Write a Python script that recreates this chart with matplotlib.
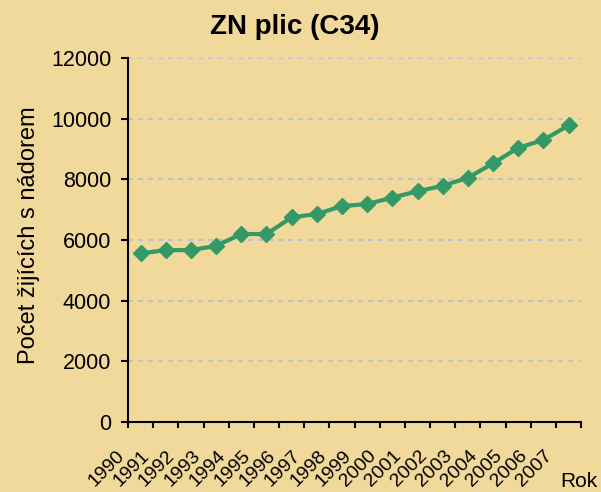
import matplotlib.pyplot as plt

plt.rcParams['font.family'] = ['Liberation Sans', 'DejaVu Sans']

# pocet zijicich s nadorem plic (C34) podle roku
roky = [str(r) for r in range(1990, 2008)]
pocet = [5560, 5670, 5670, 5810, 6200, 6200, 6750, 6860, 7120, 7190,
         7400, 7610, 7790, 8055, 8530, 9040, 9300, 9780]
y_ticks = [0, 2000, 4000, 6000, 8000, 10000, 12000]

bg = '#F0D99A'
zelena = '#339966'

fig = plt.figure(figsize=(6.01, 4.92), dpi=100, facecolor=bg)
ax = fig.add_axes([0.213, 0.142, 0.754, 0.740], facecolor=bg)

# body jsou uprostred kategorii, popisky u hranic
x = [i + 0.5 for i in range(len(roky))]
ax.plot(x, pocet, color=zelena, lw=3, marker='D', ms=8.5, zorder=3)

ax.set_xlim(0, len(roky))
ax.set_ylim(0, 12000)
ax.set_xticks(range(len(roky) + 1))
ax.set_xticklabels(roky + [''], rotation=45, ha='right', va='top')
ax.set_yticks(y_ticks)

for v in y_ticks[1:]:
    ax.axhline(v, color='#C2C2C6', lw=1.5, ls=(0, (2.4, 2.4)), zorder=1)

for s in ['top', 'right']:
    ax.spines[s].set_visible(False)
for s in ['left', 'bottom']:
    ax.spines[s].set_linewidth(1.5)
ax.tick_params(axis='y', direction='out', length=5, width=1.5, labelsize=15.5, pad=7)
ax.tick_params(axis='x', direction='out', length=4, width=1.5, labelsize=14, pad=14)

fig.text(0.49, 0.945, 'ZN plic (C34)', ha='center', va='center',
         fontsize=20, fontweight='bold')
fig.text(0.048, 0.522, 'Počet žijících s nádorem', rotation=90,
         ha='center', va='center', fontsize=17)
fig.text(0.995, 0.003, 'Rok', ha='right', va='bottom', fontsize=15)

fig.savefig('out.png', dpi=100, facecolor=bg)
